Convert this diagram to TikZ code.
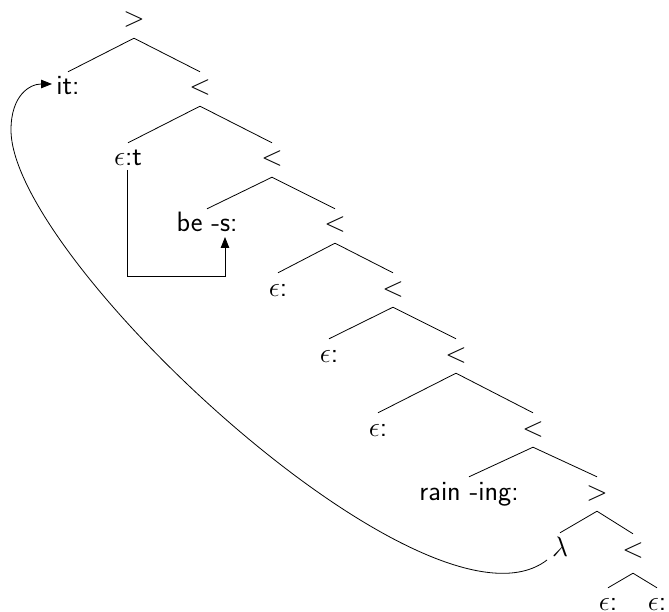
\RequirePackage{fix-cm}
\documentclass[tikz,border=0pt]{standalone}
\usepackage{fontspec}
\usetikzlibrary{arrows.meta}
\begin{document}
\begin{tikzpicture}[x=1pt,y=-1pt,
  lab/.style={inner sep=0pt, text height=23pt, text depth=11pt, anchor=base,
    font=\fontsize{28}{32}\selectfont\sffamily},
  leaf/.style={lab, text depth=1pt},
  br/.style={line width=0.8pt},
  arr/.style={line width=0.8pt, -{Triangle[length=11pt,width=8.5pt]}}]
\useasboundingbox (0,0) rectangle (669,612);
\node[lab] (r) at (134,27) {$>$};
\node[lab] (it) at (68,95) {it:};
\node[lab] (l2) at (200,95) {$<$};
\node[lab] (et) at (128,166) {$\epsilon$:t};
\node[lab] (l3) at (272,166) {$<$};
\node[lab] (bes) at (207,232) {be -s:};
\node[lab] (l4) at (335,232) {$<$};
\node[lab] (e1) at (278,296) {$\epsilon$:};
\node[lab] (l5) at (393,296) {$<$};
\node[lab] (e2) at (329,362) {$\epsilon$:};
\node[lab] (l6) at (456,362) {$<$};
\node[lab] (e3) at (378,436) {$\epsilon$:};
\node[lab] (l7) at (533,436) {$<$};
\node[lab] (rain) at (469,500) {rain -ing:};
\node[lab] (g2) at (597,500) {$>$};
\node[lab] (lam) at (560,556) {$\lambda$};
\node[lab] (l8) at (633,557) {$<$};
\node[leaf] (e4) at (608,610) {$\epsilon$:};
\node[leaf] (e5) at (657,610) {$\epsilon$:};
\draw[br] (r.south) -- (it.north);
\draw[br] (r.south) -- (l2.north);
\draw[br] (l2.south) -- (et.north);
\draw[br] (l2.south) -- (l3.north);
\draw[br] (l3.south) -- (bes.north);
\draw[br] (l3.south) -- (l4.north);
\draw[br] (l4.south) -- (e1.north);
\draw[br] (l4.south) -- (l5.north);
\draw[br] (l5.south) -- (e2.north);
\draw[br] (l5.south) -- (l6.north);
\draw[br] (l6.south) -- (e3.north);
\draw[br] (l6.south) -- (l7.north);
\draw[br] (l7.south) -- (rain.north);
\draw[br] (l7.south) -- (g2.north);
\draw[br] (g2.south) -- (lam.north);
\draw[br] (g2.south) -- (l8.north);
\draw[br] ([yshift=-5pt]l8.south) -- ([yshift=-1pt]e4.north);
\draw[br] ([yshift=-5pt]l8.south) -- ([yshift=-1pt]e5.north);
\draw[arr] ([xshift=-1pt,yshift=-4pt]et.base) -- ++(0,106) -| ([xshift=18pt,yshift=-5pt]bes.base);
\draw[arr] ([xshift=-13pt,yshift=-4pt]lam.base) .. controls (430,650) and (11,260) .. (11,130)
  .. controls (11,95) and (30,84) .. ([xshift=-16pt,yshift=11pt]it.base);
\end{tikzpicture}
\end{document}
